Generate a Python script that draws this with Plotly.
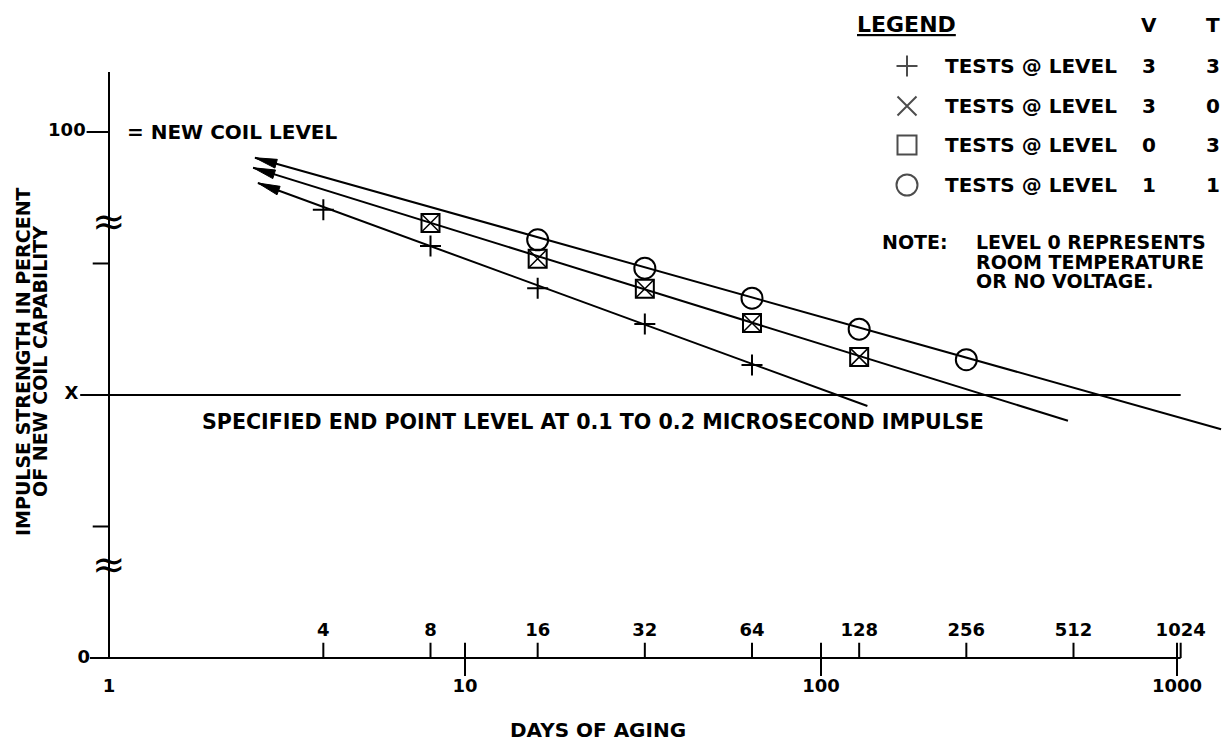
import math
import plotly.graph_objects as go

# ---------------- data ----------------
plus_days = [4, 8, 16, 32, 64]
plus_vals = [85.2, 78.3, 70.3, 63.5, 55.7]
cross_days = [8, 16, 32, 64, 128]
cross_vals = [82.7, 75.9, 70.2, 63.7, 57.2]
square_days = [8, 16, 32, 64, 128]
square_vals = [82.7, 75.9, 70.2, 63.7, 57.2]
circle_days = [16, 32, 64, 128, 256]
circle_vals = [79.5, 74.1, 68.4, 62.5, 56.7]

# fitted trend lines: [arrow tip, far end]
plus_fit_days = [2.62, 135]
plus_fit_vals = [90.3, 47.9]
sqx_fit_days = [2.54, 494]
sqx_fit_vals = [93.2, 45.1]
circle_fit_days = [2.57, 1330]
circle_fit_vals = [95.1, 43.5]

pow2_ticks = [4, 8, 16, 32, 64, 128, 256, 512, 1024]
decade_ticks = [1, 10, 100, 1000]
y_minor_ticks = [25, 75]
end_point_level = 50
new_coil_level = 100
y_breaks = [82.3, 17.1]
y_axis_top = 111.4

legend_symbols = ["cross-thin-open", "x-thin-open", "square-open", "circle-open"]
legend_sizes = [15, 19, 19, 21]
legend_v = ["3", "3", "0", "1"]
legend_t = ["3", "0", "3", "1"]

# ---------------- layout constants ----------------
W, H = 1231, 745
X_LO, X_HI = -0.30618, 3.15169
Y_LO, Y_HI = -16.54, 125.09
FONT = "DejaVu Sans"
BLACK = "black"

fig = go.Figure()


def add_lines(xs, ys, width=2):
    fig.add_trace(go.Scatter(x=xs, y=ys, mode="lines",
                             line=dict(color=BLACK, width=width),
                             hoverinfo="skip", showlegend=False))


def add_text(xs, ys, texts, pos, size=18):
    fig.add_trace(go.Scatter(x=xs, y=ys, mode="text", text=texts, textposition=pos,
                             textfont=dict(family=FONT, size=size, color=BLACK, weight="bold"),
                             cliponaxis=False, hoverinfo="skip", showlegend=False))


def to_px(d, v):
    return ((math.log10(d) - X_LO) / (X_HI - X_LO) * W,
            (v - Y_LO) / (Y_HI - Y_LO) * H)


def from_px(u, w):
    return (10 ** (u / W * (X_HI - X_LO) + X_LO),
            w / H * (Y_HI - Y_LO) + Y_LO)


# axes lines
add_lines([1, 1], [0, y_axis_top])
add_lines([0.884, 1024], [0, 0])
add_lines([0.83, 1024], [end_point_level, end_point_level])

# tick marks
tx, ty = [], []
for t in pow2_ticks:
    tx += [t, t, None]
    ty += [0, 2.9, None]
for t in decade_ticks[1:]:
    tx += [t, t, None]
    ty += [-3.4, 2.9, None]
for v in y_minor_ticks:
    tx += [0.9, 1, None]
    ty += [v, v, None]
tx += [0.865, 1, None]
ty += [new_coil_level, new_coil_level, None]
add_lines(tx, ty)

# tick labels
add_text(pow2_ticks, [5.0] * len(pow2_ticks), [str(t) for t in pow2_ticks], "middle center")
add_text(decade_ticks, [-5.6] * len(decade_ticks), [str(t) for t in decade_ticks], "middle center")
add_text([0.86], [new_coil_level], ["100"], "middle left")
add_text([0.82], [end_point_level], ["X"], "middle left")
add_text([0.885], [0], ["0"], "middle left")

# fitted lines with narrow filled arrowheads at the left tip
ARROW_LEN, ARROW_HW = 22, 4.5
for fd, fv in [(plus_fit_days, plus_fit_vals), (sqx_fit_days, sqx_fit_vals),
               (circle_fit_days, circle_fit_vals)]:
    add_lines(fd, fv)
    u0, w0 = to_px(fd[0], fv[0])
    u1, w1 = to_px(fd[1], fv[1])
    n = math.hypot(u1 - u0, w1 - w0)
    dx, dy = (u1 - u0) / n, (w1 - w0) / n
    bu, bw = u0 + ARROW_LEN * dx, w0 + ARROW_LEN * dy
    c1 = from_px(bu - ARROW_HW * dy, bw + ARROW_HW * dx)
    c2 = from_px(bu + ARROW_HW * dy, bw - ARROW_HW * dx)
    fig.add_trace(go.Scatter(x=[fd[0], c1[0], c2[0], fd[0]], y=[fv[0], c1[1], c2[1], fv[0]],
                             mode="lines", fill="toself", fillcolor=BLACK,
                             line=dict(color=BLACK, width=1), hoverinfo="skip",
                             showlegend=False))

# data markers
mk = dict(color=BLACK, line=dict(color=BLACK, width=2))
fig.add_trace(go.Scatter(x=plus_days, y=plus_vals, mode="markers", showlegend=False,
                         marker=dict(symbol="cross-thin-open", size=15, **mk)))
fig.add_trace(go.Scatter(x=square_days, y=square_vals, mode="markers", showlegend=False,
                         marker=dict(symbol="square-open", size=18, **mk)))
fig.add_trace(go.Scatter(x=cross_days, y=cross_vals, mode="markers", showlegend=False,
                         marker=dict(symbol="x-thin-open", size=18, color=BLACK,
                                     line=dict(color=BLACK, width=1.5))))
fig.add_trace(go.Scatter(x=circle_days, y=circle_vals, mode="markers", showlegend=False,
                         marker=dict(symbol="circle-open", size=21, **mk)))

# ---------------- annotations ----------------
ann = []


def px(v):
    return v / W


def py(v):
    return 1 - v / H


def label(text, x, y, size=20, xanchor="center", angle=0):
    ann.append(dict(text=text, x=px(x), y=py(y), xref="paper", yref="paper",
                    xanchor=xanchor, yanchor="middle", showarrow=False, textangle=angle,
                    font=dict(family=FONT, size=size, color=BLACK, weight="bold")))


# axis breaks
for b in y_breaks:
    ann.append(dict(text="≈", x=0, y=b, xref="x", yref="y", showarrow=False,
                    xanchor="center", yanchor="middle", yshift=4,
                    font=dict(family=FONT, size=40, color=BLACK)))

label("= NEW COIL LEVEL", 125, 132, xanchor="left")
label("SPECIFIED END POINT LEVEL AT 0.1 TO 0.2 MICROSECOND IMPULSE", 200, 422,
      size=20.6, xanchor="left")
label("DAYS OF AGING", 598, 730)
label("IMPULSE STRENGTH IN PERCENT", 23, 362, size=19, angle=-90)
label("OF NEW COIL CAPABILITY", 40, 362, size=19, angle=-90)

# legend block
leg_rows = [66, 106, 145, 185]
label("<u>LEGEND</u>", 906, 25, size=22)
label("V", 1149, 25)
label("T", 1213, 25)
for r, v, t in zip(leg_rows, legend_v, legend_t):
    label("TESTS @ LEVEL", 943, r, xanchor="left")
    label(v, 1149, r)
    label(t, 1213, r)
label("NOTE:", 880, 242, size=19, xanchor="left")
label("LEVEL 0 REPRESENTS", 974, 242, size=19, xanchor="left")
label("ROOM TEMPERATURE", 974, 262, size=19, xanchor="left")
label("OR NO VOLTAGE.", 974, 281, size=19, xanchor="left")

# legend symbols on an overlay paper-like axis
fig.add_trace(go.Scatter(x=[px(907)] * 4, y=[py(r) for r in leg_rows], mode="markers",
                         xaxis="x2", yaxis="y2", showlegend=False, hoverinfo="skip",
                         marker=dict(symbol=legend_symbols, size=legend_sizes, color=BLACK,
                                     line=dict(color=BLACK, width=2))))

fig.update_layout(
    width=W, height=H, autosize=False,
    margin=dict(l=0, r=0, t=0, b=0),
    paper_bgcolor="white", plot_bgcolor="white",
    showlegend=False,
    xaxis=dict(type="log", range=[X_LO, X_HI], visible=False, domain=[0, 1]),
    yaxis=dict(range=[Y_LO, Y_HI], visible=False, domain=[0, 1]),
    xaxis2=dict(range=[0, 1], visible=False, overlaying="x", domain=[0, 1]),
    yaxis2=dict(range=[0, 1], visible=False, overlaying="y", domain=[0, 1]),
    annotations=ann,
)

fig.write_html("out.html", config={"displayModeBar": False},
               post_script="document.body.style.margin='0';document.body.style.overflow='hidden';")
